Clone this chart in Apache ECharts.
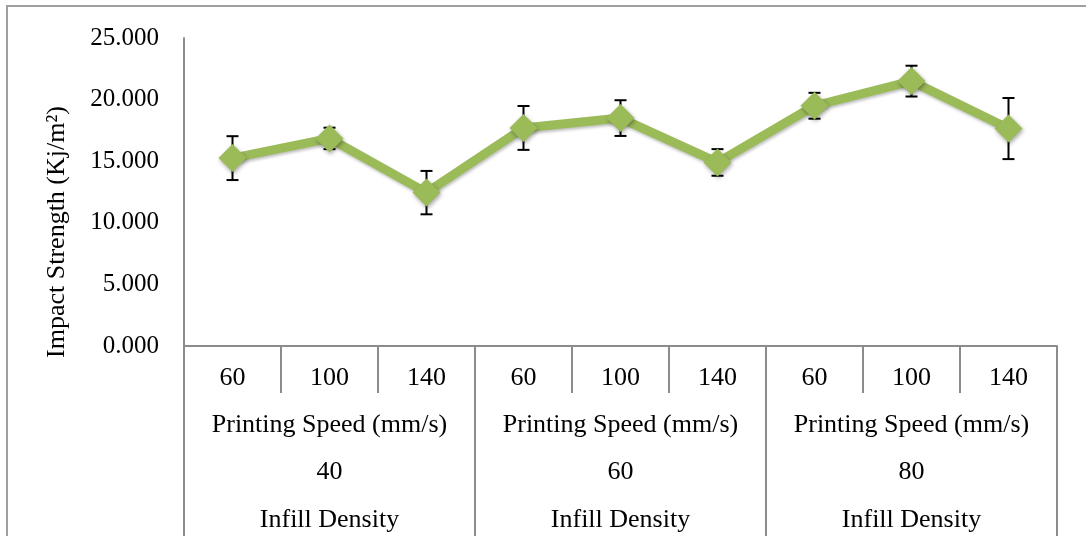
<!DOCTYPE html>
<html>
<head>
<meta charset="utf-8">
<script src="https://cdn.jsdelivr.net/npm/echarts@6/dist/echarts.min.js"></script>
<style>html,body{margin:0;padding:0;background:#fff;}#c{width:1086px;height:536px;}</style>
</head>
<body>
<div id="c"></div>
<script>
var speeds = ['60','100','140','60','100','140','60','100','140'];
var groups = ['40','60','80'];
var groupLabelTop = 'Printing Speed (mm/s)';
var groupLabelBottom = 'Infill Density';
var values = [15.25, 16.85, 12.45, 17.7, 18.5, 14.9, 19.5, 21.5, 17.65];
var errors = [1.78, 0.87, 1.76, 1.78, 1.45, 1.08, 1.05, 1.25, 2.48];
var yTicks = [0, 5, 10, 15, 20, 25];
var yTitle = 'Impact Strength (Kj/m²)';

var FONT = '"Liberation Serif", "Times New Roman", serif';
var GRAY = '#8c8c8c';
var GREEN = '#9bbb59';

var chart = echarts.init(document.getElementById('c'));
var errData = values.map(function (v, i) { return [i, v - errors[i], v + errors[i]]; });

chart.setOption({
  animation: false,
  backgroundColor: '#fff',
  grid: { left: 184, right: 29, top: 38, bottom: 190, containLabel: false, outerBoundsMode: 'none' },
  graphic: [
    { type: 'rect', shape: { x: 7, y: 6, width: 1100, height: 560 }, style: { fill: 'none', stroke: '#a0a0a0', lineWidth: 2 }, silent: true, z: -10 },
    { type: 'text', x: 57, y: 232, rotation: Math.PI / 2, style: { text: yTitle, font: '26px ' + FONT, fill: '#000', textAlign: 'center', textVerticalAlign: 'middle' } }
  ],
  xAxis: [
    {
      type: 'category', data: speeds, position: 'bottom', boundaryGap: true,
      axisLine: { show: true, lineStyle: { color: GRAY, width: 2 } },
      axisTick: { show: true, interval: 0, length: 47, lineStyle: { color: GRAY, width: 2 } },
      axisLabel: { interval: 0, margin: 19, fontFamily: FONT, fontSize: 26, color: '#000' }
    },
    {
      type: 'category', data: groups, position: 'bottom', boundaryGap: true,
      axisLine: { show: false },
      axisTick: { show: true, interval: 0, length: 200, lineStyle: { color: GRAY, width: 2 } },
      axisLabel: {
        interval: 0, margin: 55, fontFamily: FONT, fontSize: 26, color: '#000', lineHeight: 47.5,
        formatter: function (v) { return groupLabelTop + '\n' + v + '\n' + groupLabelBottom; }
      }
    }
  ],
  yAxis: {
    type: 'value', min: yTicks[0], max: yTicks[yTicks.length - 1], interval: 5,
    axisLine: { show: true, lineStyle: { color: GRAY, width: 2 } },
    axisTick: { show: false },
    splitLine: { show: false },
    axisLabel: { margin: 25, fontFamily: FONT, fontSize: 25, color: '#000', formatter: function (v) { return v.toFixed(3); } }
  },
  series: [
    {
      type: 'custom', xAxisIndex: 0, z: 1,
      data: errData,
      renderItem: function (params, api) {
        var x = api.value(0);
        var lo = api.coord([x, api.value(1)]);
        var hi = api.coord([x, api.value(2)]);
        var hw = 6;
        var st = { stroke: '#000', lineWidth: 2 };
        return { type: 'group', children: [
          { type: 'line', shape: { x1: lo[0], y1: lo[1], x2: hi[0], y2: hi[1] }, style: st },
          { type: 'line', shape: { x1: lo[0] - hw, y1: lo[1], x2: lo[0] + hw, y2: lo[1] }, style: st },
          { type: 'line', shape: { x1: hi[0] - hw, y1: hi[1], x2: hi[0] + hw, y2: hi[1] }, style: st }
        ] };
      }
    },
    {
      type: 'line', xAxisIndex: 0, z: 3, data: values,
      symbol: 'diamond', symbolSize: [28, 28],
      lineStyle: { color: GREEN, width: 9, shadowColor: 'rgba(0,0,0,0.25)', shadowBlur: 3, shadowOffsetX: 1, shadowOffsetY: 2 },
      itemStyle: { color: GREEN, shadowColor: 'rgba(0,0,0,0.35)', shadowBlur: 4, shadowOffsetX: 1, shadowOffsetY: 2 }
    }
  ]
});
</script>
</body>
</html>
